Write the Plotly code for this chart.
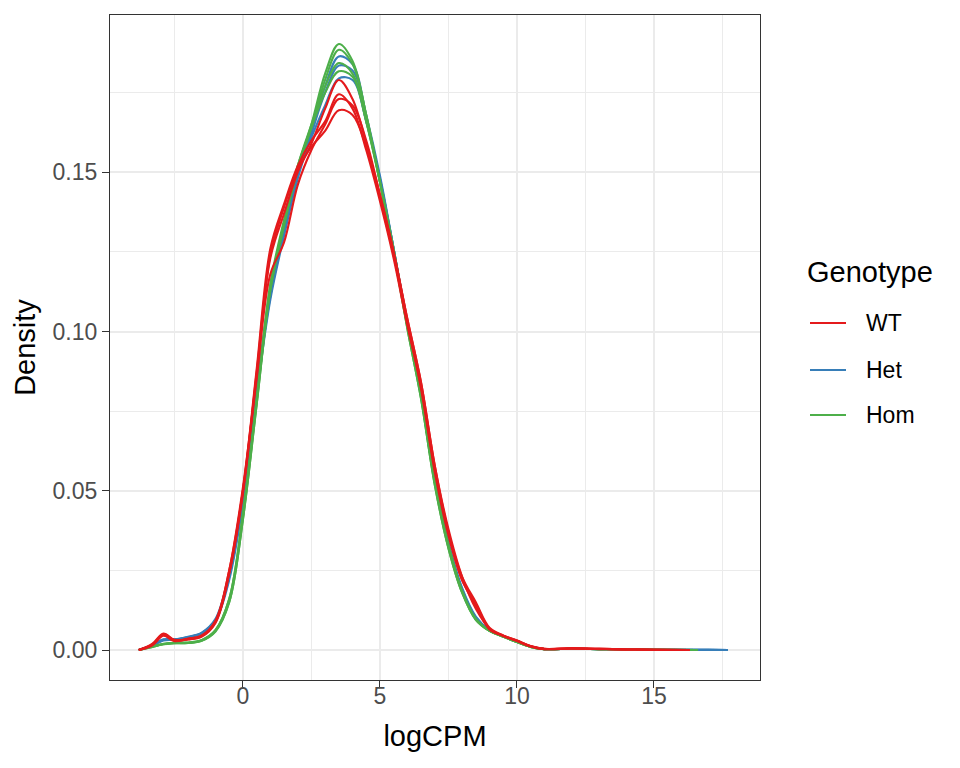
import plotly.graph_objects as go

# Shared logCPM grid for the density readings
x_core = [-3.8, -3.3, -2.9, -2.5, -2.0, -1.5, -1.0, -0.5, 0.0, 0.5, 1.0, 1.5, 2.0, 2.5,
          3.0, 3.5, 4.0, 4.5, 5.0, 5.5, 6.0, 6.5, 7.0, 7.5, 8.0, 8.5, 9.0, 9.5, 10.0,
          10.5, 11.0, 12.0, 13.0, 14.0, 15.0]
x_tail_wt = [16.3]
x_tail_hom = [16.6]
x_tail_het = [16.0, 17.0, 17.7]

wt_samples = [
    [0, 0.0018, 0.0048, 0.003, 0.0035, 0.0045, 0.009, 0.025, 0.051, 0.086, 0.123, 0.137, 0.150, 0.159,
     0.170, 0.179, 0.173, 0.159, 0.142, 0.124, 0.103, 0.082, 0.056, 0.036, 0.022, 0.014, 0.0065,
     0.0045, 0.003, 0.0012, 0.0003, 0.0005, 0.0004, 0.0002, 0.0001, 0],
    [0, 0.002, 0.0052, 0.0032, 0.0033, 0.0042, 0.0085, 0.024, 0.050, 0.088, 0.126, 0.140, 0.152, 0.160,
     0.166, 0.1745, 0.170, 0.157, 0.141, 0.123, 0.102, 0.083, 0.057, 0.037, 0.023, 0.015, 0.007,
     0.0046, 0.003, 0.0013, 0.0004, 0.0006, 0.0004, 0.0002, 0.0001, 0],
    [0, 0.0015, 0.0045, 0.0028, 0.0036, 0.0046, 0.0092, 0.025, 0.050, 0.085, 0.118, 0.128, 0.146, 0.157,
     0.165, 0.173, 0.171, 0.160, 0.143, 0.125, 0.104, 0.084, 0.058, 0.038, 0.023, 0.013, 0.0068,
     0.0044, 0.0028, 0.0011, 0.0003, 0.0005, 0.0003, 0.0002, 0.0001, 0],
    [0, 0.0017, 0.005, 0.0031, 0.0034, 0.0044, 0.0088, 0.024, 0.049, 0.087, 0.124, 0.139, 0.151, 0.158,
     0.163, 0.1695, 0.168, 0.158, 0.143, 0.125, 0.104, 0.084, 0.058, 0.037, 0.022, 0.0145, 0.0066,
     0.0045, 0.0029, 0.0012, 0.0004, 0.0005, 0.0004, 0.0002, 0.0001, 0],
]

het_samples = [
    [0, 0.0014, 0.003, 0.0032, 0.004, 0.0054, 0.0095, 0.023, 0.047, 0.081, 0.111, 0.131, 0.149, 0.163,
     0.177, 0.1864, 0.184, 0.168, 0.149, 0.126, 0.102, 0.080, 0.053, 0.033, 0.019, 0.010, 0.0062,
     0.0043, 0.0026, 0.0011, 0.0003, 0.0004, 0.0003, 0.0002, 0.0001, 0.0001, 0.00005, 0],
    [0, 0.0015, 0.0032, 0.0033, 0.0041, 0.0052, 0.0092, 0.022, 0.046, 0.080, 0.110, 0.130, 0.148, 0.162,
     0.175, 0.1835, 0.182, 0.167, 0.148, 0.126, 0.102, 0.080, 0.053, 0.033, 0.019, 0.0102, 0.0062,
     0.0043, 0.0026, 0.0011, 0.0003, 0.0004, 0.0003, 0.0002, 0.0001, 0.0001, 0.00005, 0],
    [0, 0.0016, 0.0034, 0.0034, 0.0042, 0.0055, 0.0098, 0.024, 0.048, 0.082, 0.113, 0.133, 0.150, 0.161,
     0.171, 0.1795, 0.179, 0.166, 0.148, 0.126, 0.103, 0.081, 0.054, 0.034, 0.0195, 0.0105, 0.0063,
     0.0044, 0.0027, 0.0011, 0.0003, 0.0004, 0.0003, 0.0002, 0.0001, 0.0001, 0.00005, 0],
]

hom_samples = [
    [0, 0.001, 0.0018, 0.0022, 0.0022, 0.003, 0.006, 0.015, 0.041, 0.077, 0.113, 0.133, 0.151, 0.165,
     0.181, 0.1903, 0.185, 0.168, 0.147, 0.125, 0.101, 0.079, 0.052, 0.032, 0.018, 0.0095, 0.006,
     0.0042, 0.0025, 0.001, 0.0003, 0.0004, 0.0003, 0.0002, 0.0001, 0],
    [0, 0.0011, 0.0019, 0.0023, 0.0023, 0.0031, 0.0062, 0.016, 0.042, 0.078, 0.114, 0.134, 0.151, 0.164,
     0.179, 0.1885, 0.184, 0.168, 0.147, 0.125, 0.101, 0.079, 0.052, 0.032, 0.018, 0.0095, 0.006,
     0.0042, 0.0025, 0.001, 0.0003, 0.0004, 0.0003, 0.0002, 0.0001, 0],
    [0, 0.001, 0.0018, 0.0021, 0.0022, 0.0029, 0.0058, 0.015, 0.041, 0.077, 0.113, 0.134, 0.152, 0.165,
     0.177, 0.1843, 0.181, 0.166, 0.147, 0.125, 0.102, 0.080, 0.053, 0.033, 0.0185, 0.0098, 0.0061,
     0.0043, 0.0026, 0.001, 0.0003, 0.0004, 0.0003, 0.0002, 0.0001, 0],
    [0, 0.0012, 0.002, 0.0023, 0.0024, 0.0032, 0.0063, 0.016, 0.043, 0.079, 0.115, 0.135, 0.152, 0.164,
     0.175, 0.1817, 0.180, 0.166, 0.147, 0.126, 0.102, 0.080, 0.053, 0.033, 0.0185, 0.0097, 0.006,
     0.0042, 0.0025, 0.001, 0.0003, 0.0004, 0.0003, 0.0002, 0.0001, 0],
]

genotypes = ["WT", "Het", "Hom"]
colors = {"WT": "#E41A1C", "Het": "#377EB8", "Hom": "#4DAF4A"}

x_ticks = [0, 5, 10, 15]
y_ticks = [0.00, 0.05, 0.10, 0.15]
y_tick_labels = ["0.00", "0.05", "0.10", "0.15"]

FONT = "Liberation Sans, Arial, Helvetica, sans-serif"

fig = go.Figure()

groups = [
    ("Het", het_samples, x_core + x_tail_het),
    ("Hom", hom_samples, x_core + x_tail_hom),
    ("WT", wt_samples, x_core + x_tail_wt),
]
for name, samples, xs in groups:
    for ys in samples:
        fig.add_trace(go.Scatter(
            x=xs, y=ys, mode="lines", name=name,
            line=dict(color=colors[name], width=2.1, shape="spline", smoothing=1.0),
            showlegend=False, hoverinfo="skip",
        ))

grid_major = "#EBEBEB"
axis_common = dict(
    showline=True, mirror=True, linecolor="#333333", linewidth=1.1,
    ticks="outside", ticklen=7, tickwidth=1.1, tickcolor="#333333",
    showgrid=True, gridcolor=grid_major, gridwidth=2.2,
    zeroline=False,
    tickfont=dict(family=FONT, size=23, color="#4D4D4D"),
)

fig.update_xaxes(
    range=[-4.85, 18.87], tickvals=x_ticks, ticktext=[str(v) for v in x_ticks],
    ticklabelstandoff=-12,
    title=dict(text="logCPM", font=dict(family=FONT, size=29, color="black"), standoff=18),
    minor=dict(tickvals=[-2.5, 2.5, 7.5, 12.5, 17.5], showgrid=True, gridcolor=grid_major,
               gridwidth=1.1, ticklen=0),
    **axis_common,
)
fig.update_yaxes(
    range=[-0.0094, 0.1994], tickvals=y_ticks, ticktext=y_tick_labels,
    title=dict(text="Density", font=dict(family=FONT, size=29, color="black"), standoff=8),
    minor=dict(tickvals=[0.025, 0.075, 0.125, 0.175], showgrid=True, gridcolor=grid_major,
               gridwidth=1.1, ticklen=0),
    **axis_common,
)

# Legend drawn in paper coordinates (plot area spans 650 x 665 px)
def px_x(p):
    return (p - 110) / 650.0

def px_y(p):
    return (680 - p) / 665.0

legend_rows = {"WT": 323, "Het": 370, "Hom": 415}
annotations = [dict(
    text="Genotype", x=px_x(805), y=px_y(272), xref="paper", yref="paper",
    xanchor="left", yanchor="middle", showarrow=False,
    font=dict(family=FONT, size=29, color="black"),
)]
shapes = []
for g in genotypes:
    yy = px_y(legend_rows[g])
    shapes.append(dict(type="line", xref="paper", yref="paper",
                       x0=px_x(810), x1=px_x(846), y0=yy, y1=yy,
                       line=dict(color=colors[g], width=2.1)))
    annotations.append(dict(
        text=g, x=px_x(864), y=yy, xref="paper", yref="paper",
        xanchor="left", yanchor="middle", showarrow=False,
        font=dict(family=FONT, size=23, color="black"),
    ))

fig.update_layout(
    width=952, height=760,
    margin=dict(l=102, r=200, t=7, b=88),
    paper_bgcolor="white", plot_bgcolor="white",
    font=dict(family=FONT, color="black"),
    showlegend=False,
    annotations=annotations,
    shapes=shapes,
)

fig.write_html("out.html")
